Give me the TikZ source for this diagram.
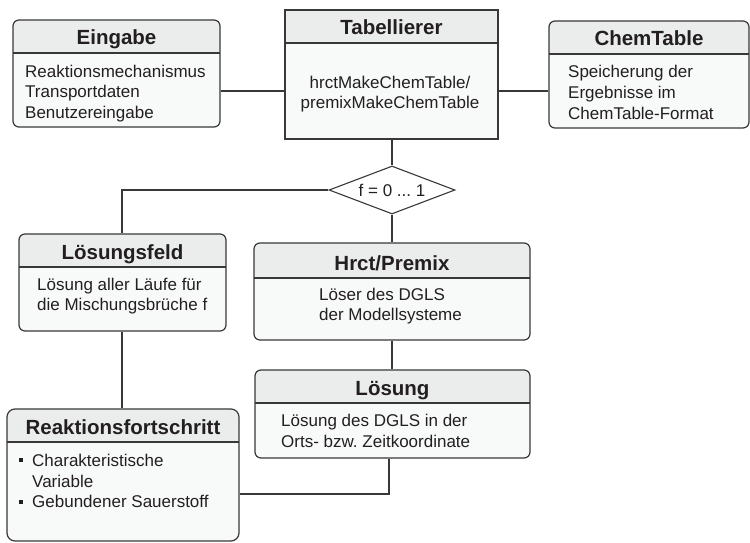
\documentclass[tikz,border=0pt]{standalone}
\usepackage{fontspec}
\setmainfont{Liberation Sans}
\usetikzlibrary{fit,shapes.geometric}
\frenchspacing
\definecolor{headfill}{HTML}{EBEDED}
\definecolor{bodyfill}{HTML}{F8F9F9}
\definecolor{linec}{HTML}{383838}
\definecolor{textc}{HTML}{231F20}
\tikzset{
  frame/.style={draw=linec, line width=1.2pt, inner sep=0pt},
  divline/.style={draw=linec, line width=1.1pt},
  conn/.style={draw=linec, line width=1.1pt},
  titletext/.style={font=\fontsize{20.5}{24}\selectfont\bfseries, text=textc, inner sep=0pt, anchor=base},
  bodytext/.style={font=\fontsize{17}{20.6}\selectfont, text=textc, inner sep=0pt, align=left, anchor=base west},
  bullet/.style={fill=textc, draw=none, inner sep=0pt, minimum size=4.5pt, rectangle},
}
% #1 name, #2 x1, #3 y1, #4 x2, #5 y2, #6 y of divider, #7 corner radius, #8 title
\newcommand\umlbox[8]{%
  \fill[bodyfill, rounded corners=#7] (#2,#3) rectangle (#4,#5);
  \begin{scope}
    \clip[rounded corners=#7] (#2,#3) rectangle (#4,#5);
    \fill[headfill] (#2,#3) rectangle (#4,#6);
  \end{scope}
  \draw[divline] (#2,#6) -- (#4,#6);
  \node[frame, rounded corners=#7, fit={(#2,#3) (#4,#5)}] (#1) {};
  \node[titletext] (#1-title) at ({(#2+#4)/2},{#6-8}) {#8};
}
\begin{document}
\begin{tikzpicture}[x=1pt,y=-1pt]
\useasboundingbox (0,0) rectangle (750,543);

% boxes
\umlbox{eing}{13}{20}{220}{127}{53}{6pt}{Eingabe}
\umlbox{tab}{285}{10}{498}{139}{43}{0pt}{Tabellierer}
\umlbox{chem}{549}{21}{749}{128}{54}{6pt}{ChemTable}
\umlbox{feld}{19}{234}{226}{331}{267}{6pt}{Lösungsfeld}
\umlbox{hrct}{254}{243}{530}{340}{278}{6pt}{Hrct/Premix}
\umlbox{loes}{255}{370}{530}{458}{403}{6pt}{Lösung}
\umlbox{reak}{7}{409}{239}{541}{442}{8pt}{Reaktionsfortschritt}

% body texts (anchored at the baseline of their last line)
\node[bodytext] (eing-body) at (25,118.2) {Reaktionsmechanismus\\Transportdaten\\Benutzereingabe};
\node[bodytext, align=center, anchor=base] (tab-body) at (390,109) {hrctMakeChemTable/\\premixMakeChemTable};
\node[bodytext] (chem-body) at (568,119) {Speicherung der\\Ergebnisse im\\ChemTable-Format};
\node[bodytext] (feld-body) at (37,310.7) {Lösung aller Läufe für\\die Mischungsbrüche f};
\node[bodytext] (hrct-body) at (319,320.7) {Löser des DGLS\\der Modellsysteme};
\node[bodytext] (loes-body) at (281,447) {Lösung des DGLS in der\\Orts- bzw. Zeitkoordinate};
\node[bodytext] (reak-body) at (32,507.7) {Charakteristische\\Variable\\Gebundener Sauerstoff};
\node[bullet] (b1) at (21,460) {};
\node[bullet] (b2) at (21,502) {};

% decision
\node[diamond, draw=linec, line width=1.1pt, fill=white, inner sep=0pt, aspect=2.625,
      minimum width=126pt, minimum height=48pt, font=\fontsize{17}{20}\selectfont, text=textc] (dec) at (392,190) {f = 0 ... 1};

% connectors
\coordinate (c1) at (0,91);
\draw[conn] (eing.east |- c1) -- (tab.west |- c1);
\draw[conn] (tab.east |- c1) -- (chem.west |- c1);
\draw[conn] (tab.south -| dec.north) -- (dec.north);
\coordinate (c2) at (122,190);
\draw[conn] (dec.west) -- (c2) -- (c2 |- feld.north);
\draw[conn] (dec.south) -- (dec.south |- hrct.north);
\draw[conn] (dec.south |- hrct.south) -- (dec.south |- loes.north);
\draw[conn] (c2 |- feld.south) -- (c2 |- reak.north);
\coordinate (c3) at (389,494);
\draw[conn] (c3 |- loes.south) -- (c3) -- (reak.east |- c3);
\end{tikzpicture}
\end{document}
